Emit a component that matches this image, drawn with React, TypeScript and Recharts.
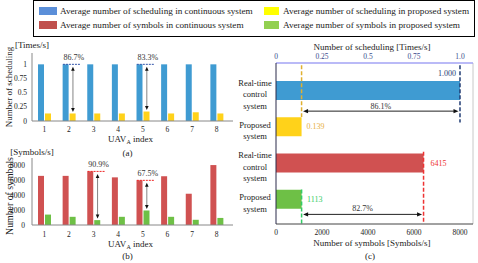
import React from 'react';
import { BarChart, Bar, XAxis, YAxis, Cell, ReferenceLine } from 'recharts';

const FONT = '"Liberation Serif", "Times New Roman", serif';

// (a) and (b): per-UAV values
const uavIndex = ['1', '2', '3', '4', '5', '6', '7', '8'];
const schedContinuous = [1, 1, 1, 1, 1, 1, 1, 1];
const schedProposed = [0.133, 0.133, 0.133, 0.133, 0.167, 0.133, 0.154, 0.133];
const symbolsContinuous = [6600, 6600, 7200, 6400, 6000, 6550, 4200, 8050];
const symbolsProposed = [1400, 1100, 655, 1100, 1950, 1100, 700, 950];
const schedTicks = [0, 0.25, 0.5, 0.75, 1];
const symbolTicks = [0, 2000, 4000, 6000, 8000];
const schedMarked = ['2', '5'];
const symbolMarked = ['3', '5'];

// (c): averages
const systemKeys = ['rtSched', 'propSched', 'rtSym', 'propSym'];
const systemLabels = [
  ['Real-time', 'control', 'system'],
  ['Proposed', 'system'],
  ['Real-time', 'control', 'system'],
  ['Proposed', 'system'],
];
const avgScheduling = [1.0, 0.139, null, null];
const avgSymbols = [null, null, 6415, 1113];
const topTicks = [0, 0.25, 0.5, 0.75, 1];
const bottomTicks = [0, 2000, 4000, 6000, 8000];

const legendItems = [
  { label: 'Average number of scheduling in continuous system', color: '#5b8fd9', col: 0, row: 0 },
  { label: 'Average number of scheduling in proposed system', color: '#ffff00', col: 1, row: 0 },
  { label: 'Average number of symbols in continuous system', color: '#c0504d', col: 0, row: 1 },
  { label: 'Average number of symbols in proposed system', color: '#92d050', col: 1, row: 1 },
];

const BLUE = '#3f9bd2';
const YELLOW = '#ffd21a';
const RED = '#d05151';
const GREEN = '#6ec046';

const schedData = uavIndex.map((u, i) => ({ uav: u, cont: schedContinuous[i], prop: schedProposed[i] }));
const symbolData = uavIndex.map((u, i) => ({ uav: u, cont: symbolsContinuous[i], prop: symbolsProposed[i] }));
const systemData = systemKeys.map((k, i) => ({ key: k, sched: avgScheduling[i], sym: avgSymbols[i] }));

const pct = (hi: number, lo: number) => ((1 - lo / hi) * 100).toFixed(1) + '%';

const upHead = (x: number, y: number) => `${x},${y} ${x - 1.8},${y + 4} ${x + 1.8},${y + 4}`;
const downHead = (x: number, y: number) => `${x},${y} ${x - 1.8},${y - 4} ${x + 1.8},${y - 4}`;
const leftHead = (x: number, y: number) => `${x},${y} ${x + 5},${y - 2.2} ${x + 5},${y + 2.2}`;
const rightHead = (x: number, y: number) => `${x},${y} ${x - 5},${y - 2.2} ${x - 5},${y + 2.2}`;

// dashed cap + vertical double arrow + percentage, for the left panels
const gapMarker = (label: string, dashColor: string) => (p: any) => {
  const x = p.x1;
  const yTop = p.y1;
  const yBot = p.y2;
  const ax = x + 4;
  return (
    <g>
      <line x1={x - 6} x2={x + 12} y1={yTop} y2={yTop} stroke={dashColor} strokeWidth={1} strokeDasharray="2 1" />
      <line x1={ax} x2={ax} y1={yTop + 5} y2={yBot - 4} stroke="#666" strokeWidth={0.8} />
      <polygon points={upHead(ax, yTop + 2.5)} fill="#111" />
      <polygon points={downHead(ax, yBot - 1.5)} fill="#111" />
      <text x={x + 5} y={yTop - 4} textAnchor="middle" fontSize={8} fill="#333" fontFamily={FONT}>
        {label}
      </text>
    </g>
  );
};

// vertical dashed guide for panel (c)
const guide = (color: string, dTop: number, dBot: number, text?: string, tdx = 0, tdy = 0, anchor = 'start') => (p: any) => (
  <g>
    <line x1={p.x1} x2={p.x1} y1={p.y1 + dTop} y2={p.y2 + dBot} stroke={color} strokeWidth={1.5} strokeDasharray="4 2" />
    {text && (
      <text x={p.x1 + tdx} y={p.y1 + tdy} textAnchor={anchor as any} fontSize={8} fill={color} fontFamily={FONT}>
        {text}
      </text>
    )}
  </g>
);

// horizontal double arrow for panel (c)
const spanArrow = (label: string, dy: number, tdy: number) => (p: any) => {
  const y = p.y1 + dy;
  const xa = p.x1 + 1.5;
  const xb = p.x2 - 1.5;
  return (
    <g>
      <line x1={xa + 4} x2={xb - 4} y1={y} y2={y} stroke="#222" strokeWidth={1} />
      <polygon points={leftHead(xa, y)} fill="#111" />
      <polygon points={rightHead(xb, y)} fill="#111" />
      <text x={(xa + xb) / 2} y={p.y1 + tdy} textAnchor="middle" fontSize={8} fill="#333" fontFamily={FONT}>
        {label}
      </text>
    </g>
  );
};

const uavLabel = (tag: string, tagDy: number) => (p: any) => {
  const vb = p.viewBox || { x: 32, y: 81, width: 201 };
  const cx = vb.x + vb.width / 2 - 2;
  return (
    <g fontFamily={FONT} fill="#222">
      <text x={cx} y={102} textAnchor="middle" fontSize={9}>
        <tspan>UAV</tspan>
        <tspan fontSize={6} dy={2}>A</tspan>
        <tspan dy={-2}> index</tspan>
      </text>
      <text x={cx - 3} y={tagDy} textAnchor="middle" fontSize={9}>
        {tag}
      </text>
    </g>
  );
};

const yTitle = (title: string, unit: string, cy: number, size: number, unitY: number) => () => (
  <g fontFamily={FONT} fill="#222">
    <text x={9} y={cy} fontSize={size} transform={`rotate(-90, 9, ${cy})`} textAnchor="middle" dominantBaseline="central">
      {title}
    </text>
    <text x={32} y={unitY} textAnchor="middle" fontSize={9}>
      {unit}
    </text>
  </g>
);

const SystemTick = (props: any) => {
  const { x, y, payload } = props;
  const lines = systemLabels[systemKeys.indexOf(payload.value)] || [];
  const cx = x - 21;
  return (
    <text x={cx} y={y} textAnchor="middle" fontSize={8.5} fill="#222" fontFamily={FONT}>
      {lines.map((l, i) => (
        <tspan key={i} x={cx} y={y + 7 + (i - (lines.length - 1) / 2) * 11.5}>
          {l}
        </tspan>
      ))}
    </text>
  );
};

const tickFont = { fontSize: 7.5, fill: '#222', fontFamily: FONT };

const Legend = () => (
  <div
    style={{
      position: 'absolute',
      left: 33,
      top: 0,
      width: 442,
      height: 37,
      border: '1px solid #000',
      boxSizing: 'border-box',
      fontFamily: FONT,
      fontSize: 9.2,
      color: '#222',
    }}
  >
    {legendItems.map((it) => (
      <div key={it.label} style={{ position: 'absolute', left: it.col ? 230 : 5, top: it.row ? 18 : 4, display: 'flex', alignItems: 'center', height: 12 }}>
        <div style={{ width: it.col ? 15 : 18, height: 8, background: it.color, marginRight: it.col ? 4 : 3 }} />
        <span style={{ whiteSpace: 'nowrap' }}>{it.label}</span>
      </div>
    ))}
  </div>
);

export default function App() {
  return (
    <div style={{ position: 'absolute', left: 0, top: 0, width: 478, height: 263, background: '#fff', overflow: 'hidden' }}>
      <Legend />

      {/* (a) scheduling per UAV */}
      <div style={{ position: 'absolute', left: 0, top: 40 }}>
        <BarChart width={240} height={118} data={schedData} margin={{ top: 13, right: 7, left: 0, bottom: 0 }} barSize={6} barGap={1}>
          <XAxis
            dataKey="uav"
            height={37}
            padding={{ left: 0, right: 4 }}
            axisLine={{ stroke: '#888' }}
            tickLine={false}
            tickSize={3}
            tickMargin={3}
            tick={tickFont}
            label={{ content: uavLabel('(a)', 115.5) }}
          />
          <YAxis
            domain={[0, 1.2]}
            ticks={schedTicks}
            width={32}
            axisLine={{ stroke: '#888' }}
            tickLine={false}
            tickSize={3}
            tickMargin={2}
            tick={tickFont}
            label={{ content: yTitle('Number of scheduling', '[Times/s]', 47, 9, 8) }}
          />
          <Bar dataKey="cont" fill={BLUE} isAnimationActive={false} />
          <Bar dataKey="prop" fill={YELLOW} isAnimationActive={false} />
          {schedMarked.map((u) => {
            const i = uavIndex.indexOf(u);
            return (
              <ReferenceLine
                key={u}
                ifOverflow="visible"
                segment={[
                  { x: u, y: schedContinuous[i] },
                  { x: u, y: schedProposed[i] },
                ]}
                shape={gapMarker(pct(schedContinuous[i], schedProposed[i]), '#3355aa')}
              />
            );
          })}
        </BarChart>
      </div>

      {/* (b) symbols per UAV */}
      <div style={{ position: 'absolute', left: 0, top: 145 }}>
        <BarChart width={240} height={118} data={symbolData} margin={{ top: 13, right: 7, left: 0, bottom: 0 }} barSize={6} barGap={1}>
          <XAxis
            dataKey="uav"
            height={38}
            padding={{ left: 0, right: 4 }}
            axisLine={{ stroke: '#888' }}
            tickLine={false}
            tickSize={3}
            tickMargin={4}
            tick={tickFont}
            label={{ content: uavLabel('(b)', 113.5) }}
          />
          <YAxis
            domain={[0, 9000]}
            ticks={symbolTicks}
            width={32}
            axisLine={{ stroke: '#888' }}
            tickLine={false}
            tickSize={3}
            tickMargin={4}
            tick={tickFont}
            label={{ content: yTitle('Number of symbols', '[Symbols/s]', 51, 9.8, 10) }}
          />
          <Bar dataKey="cont" fill={RED} isAnimationActive={false} />
          <Bar dataKey="prop" fill={GREEN} isAnimationActive={false} />
          {symbolMarked.map((u) => {
            const i = uavIndex.indexOf(u);
            return (
              <ReferenceLine
                key={u}
                ifOverflow="visible"
                segment={[
                  { x: u, y: symbolsContinuous[i] },
                  { x: u, y: symbolsProposed[i] },
                ]}
                shape={gapMarker(pct(symbolsContinuous[i], symbolsProposed[i]), '#ee2222')}
              />
            );
          })}
        </BarChart>
      </div>

      {/* (c) averages */}
      <div style={{ position: 'absolute', left: 234, top: 40 }}>
        <BarChart width={244} height={223} data={systemData} layout="vertical" margin={{ top: 0, right: 5, left: 0, bottom: 0 }}>
          <XAxis
            xAxisId="top"
            orientation="top"
            type="number"
            domain={[0, 1.0707]}
            ticks={topTicks}
            tickFormatter={(v: number) => (v === 1 ? '1.0' : String(v))}
            height={23}
            axisLine={{ stroke: '#a3a3f5', strokeWidth: 1.5 }}
            tickLine={false}
            tickSize={2}
            tickMargin={2}
            tick={{ ...tickFont, fill: '#3b4b8c' }}
            label={{
              content: () => (
                <text x={138} y={10} textAnchor="middle" fontSize={9} fill="#222" fontFamily={FONT}>
                  Number of scheduling [Times/s]
                </text>
              ),
            }}
          />
          <XAxis
            xAxisId="bottom"
            orientation="bottom"
            type="number"
            domain={[0, 8565]}
            ticks={bottomTicks}
            height={39}
            axisLine={{ stroke: '#444' }}
            tickLine={false}
            tickSize={3}
            tickMargin={3}
            tick={tickFont}
            label={{
              content: () => (
                <g fontFamily={FONT} fontSize={9} fill="#222">
                  <text x={138} y={206} textAnchor="middle">
                    Number of symbols [Symbols/s]
                  </text>
                  <text x={136} y={219} textAnchor="middle">
                    (c)
                  </text>
                </g>
              ),
            }}
          />
          <YAxis
            type="category"
            dataKey="key"
            width={42}
            padding={{ top: 9, bottom: 7 }}
            axisLine={{ stroke: '#2a2a4a' }}
            tickLine={false}
            tickSize={0}
            tickMargin={0}
            tick={<SystemTick />}
          />
          <Bar dataKey="sched" xAxisId="top" stackId="c" barSize={19} isAnimationActive={false}>
            {systemData.map((d, i) => (
              <Cell key={i} fill={i === 0 ? BLUE : YELLOW} />
            ))}
          </Bar>
          <Bar dataKey="sym" xAxisId="bottom" stackId="c" barSize={19} isAnimationActive={false}>
            {systemData.map((d, i) => (
              <Cell key={i} fill={i === 2 ? RED : GREEN} />
            ))}
          </Bar>
          <ReferenceLine xAxisId="bottom" x={8565} stroke="#c8c8c8" ifOverflow="visible" />
          <ReferenceLine
            xAxisId="top"
            ifOverflow="visible"
            segment={[
              { x: avgScheduling[0], y: systemKeys[0] },
              { x: avgScheduling[0], y: systemKeys[1] },
            ]}
            shape={guide('#1f3b73', -25, -4, (avgScheduling[0] as number).toFixed(3), -4, -14.5, 'end')}
          />
          <ReferenceLine
            xAxisId="top"
            ifOverflow="visible"
            segment={[
              { x: avgScheduling[1], y: systemKeys[0] },
              { x: avgScheduling[1], y: systemKeys[1] },
            ]}
            shape={guide('#e0b030', -25, -9.5)}
          />
          <ReferenceLine
            xAxisId="top"
            ifOverflow="visible"
            segment={[
              { x: avgScheduling[1], y: systemKeys[1] },
              { x: avgScheduling[1], y: systemKeys[1] },
            ]}
            shape={(p: any) => (
              <text x={p.x1 + 5} y={p.y1 + 3} fontSize={8} fill="#e8b040" fontFamily={FONT}>
                {(avgScheduling[1] as number).toFixed(3)}
              </text>
            )}
          />
          <ReferenceLine
            xAxisId="bottom"
            ifOverflow="visible"
            segment={[
              { x: avgSymbols[2], y: systemKeys[2] },
              { x: avgSymbols[2], y: systemKeys[3] },
            ]}
            shape={guide('#ee3333', -11, 24.5, String(avgSymbols[2]), 7, 3)}
          />
          <ReferenceLine
            xAxisId="bottom"
            ifOverflow="visible"
            segment={[
              { x: avgSymbols[3], y: systemKeys[3] },
              { x: avgSymbols[3], y: systemKeys[3] },
            ]}
            shape={guide('#33cc66', -9.5, 24.5, String(avgSymbols[3]), 5.5, 3)}
          />
          <ReferenceLine
            xAxisId="top"
            ifOverflow="visible"
            segment={[
              { x: avgScheduling[1], y: systemKeys[0] },
              { x: avgScheduling[0], y: systemKeys[0] },
            ]}
            shape={spanArrow(pct(avgScheduling[0] as number, avgScheduling[1] as number), 21, 19)}
          />
          <ReferenceLine
            xAxisId="bottom"
            ifOverflow="visible"
            segment={[
              { x: avgSymbols[3], y: systemKeys[3] },
              { x: avgSymbols[2], y: systemKeys[3] },
            ]}
            shape={spanArrow(pct(avgSymbols[2] as number, avgSymbols[3] as number), 15.5, 12.5)}
          />
        </BarChart>
      </div>
    </div>
  );
}
